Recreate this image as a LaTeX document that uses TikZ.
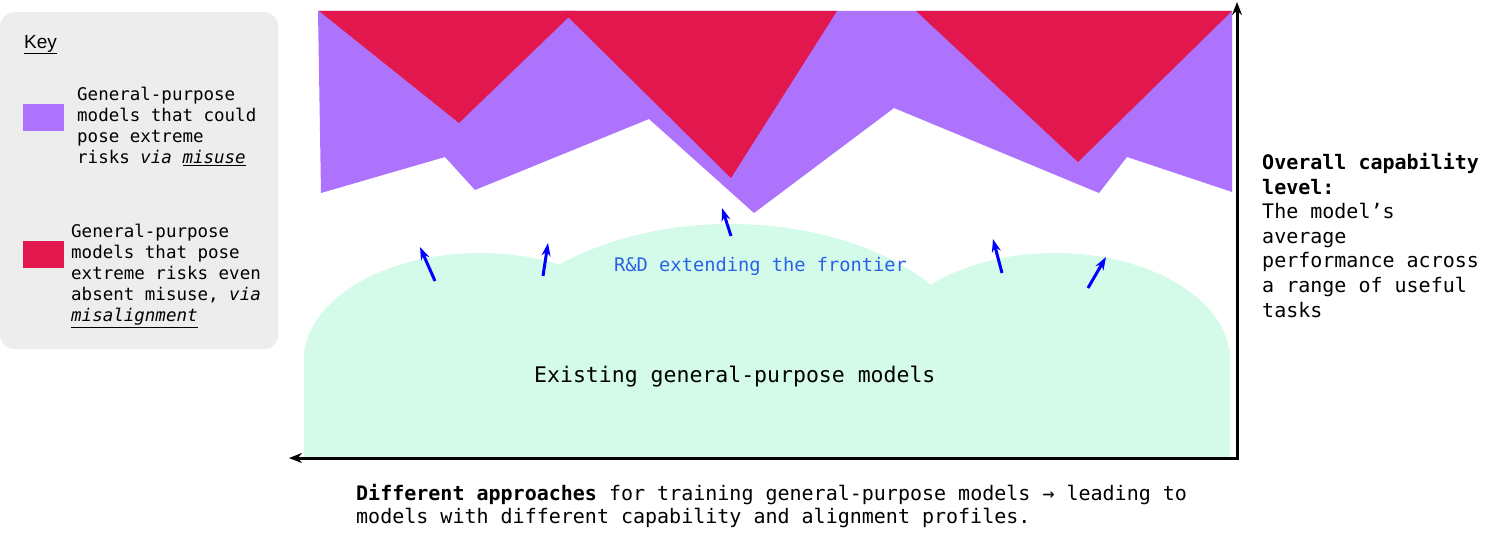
\documentclass[tikz,border=0pt]{standalone}
\usepackage{fontspec}
\setmainfont{DejaVu Sans Mono}
\newfontfamily\keyfont{Liberation Sans}
\definecolor{purp}{HTML}{AD73FD}
\definecolor{redc}{HTML}{E1174D}
\definecolor{greenc}{HTML}{D4FBEA}
\definecolor{keybg}{HTML}{EDEDED}
\definecolor{rdblue}{HTML}{2A62E6}
\usetikzlibrary{arrows.meta}
\tikzset{
  txt/.style={anchor=north west, inner sep=0pt, align=left},
  bluearr/.style={-{Stealth[length=13pt,width=9pt]}, blue, line width=3pt},
  axis/.style={-{Stealth[length=13pt,width=10pt]}, line width=3pt}
}
\begin{document}
\begin{tikzpicture}[x=1pt,y=-1pt]
\useasboundingbox (0,0) rectangle (1492,543);
% key
\node[fill=keybg, rounded corners=14pt, minimum width=278pt, minimum height=337pt, anchor=north west, inner sep=0pt] (keybox) at (0,12) {};
\node[txt, font=\keyfont\fontsize{19}{22}\selectfont] (keyt) at (24,35) {\underline{Key}};
\node[fill=purp, minimum width=41pt, minimum height=27pt, anchor=north west, inner sep=0pt] (sw1) at (23,104) {};
\node[fill=redc, minimum width=41pt, minimum height=27pt, anchor=north west, inner sep=0pt] (sw2) at (23,241) {};
\node[txt, font=\fontsize{17.5}{21}\selectfont] (k1) at (77,87) {General-purpose\\models that could\\pose extreme\\risks \textit{via} \underline{\textit{misuse}}};
\node[txt, font=\fontsize{17.5}{21}\selectfont] (k2) at (71,224) {General-purpose\\models that pose\\extreme risks even\\absent misuse, \textit{via}\\\underline{\textit{misalignment}}};
% green blob
\begin{scope}
\clip (290,0) rectangle (1236,458);
\fill[greenc] (304,350) rectangle (1230,458);
\fill[greenc] (480,360) ellipse [x radius=176, y radius=107];
\fill[greenc] (730,382) ellipse [x radius=255, y radius=158];
\fill[greenc] (1055,360) ellipse [x radius=175, y radius=107];
\end{scope}
% purple
\fill[purp] (318,11) -- (1232,11) -- (1232,192) -- (1127,157) -- (1099,193) -- (894,108) -- (754,213) -- (649,119) -- (475,190) -- (445,157) -- (321,193) -- cycle;
% red
\fill[redc] (319,11) -- (575,11) -- (459,123) -- cycle;
\fill[redc] (562,11) -- (837,11) -- (731,178) -- cycle;
\fill[redc] (916,11) -- (1232,11) -- (1078,162) -- cycle;
% axes
\coordinate (o) at (1237,458);
\coordinate (ytop) at (1237,2);
\coordinate (xend) at (289,458);
\draw[axis] ([yshift=1.5pt]o) -- (ytop);
\draw[axis] ([xshift=1.5pt]o) -- (xend);
% blue arrows
\foreach \a/\b/\c/\d [count=\i] in {435/281/420/247, 543/276/548/243, 731/236/722/208, 1002/273/993/239, 1088/288/1106/257}{
  \coordinate (s\i) at (\a,\b); \coordinate (e\i) at (\c,\d);
  \draw[bluearr] (s\i) -- (e\i);
}
\node[anchor=base west, inner sep=0pt, text=rdblue, font=\fontsize{18.7}{22}\selectfont] (rd) at (614,271) {R\&D extending the frontier};
\node[anchor=base west, inner sep=0pt, font=\fontsize{21.5}{24}\selectfont] (ex) at (534,382) {Existing general-purpose models};
\node[txt, font=\fontsize{20}{24.6}\selectfont] (right) at (1262,153) {\textbf{Overall capability}\\\textbf{level:}\\The model’s\\average\\performance across\\a range of useful\\tasks};
\node[txt, font=\fontsize{20}{23}\selectfont] (bottom) at (356,484) {\textbf{Different approaches} for training general-purpose models → leading to\\models with different capability and alignment profiles.};
\end{tikzpicture}
\end{document}
